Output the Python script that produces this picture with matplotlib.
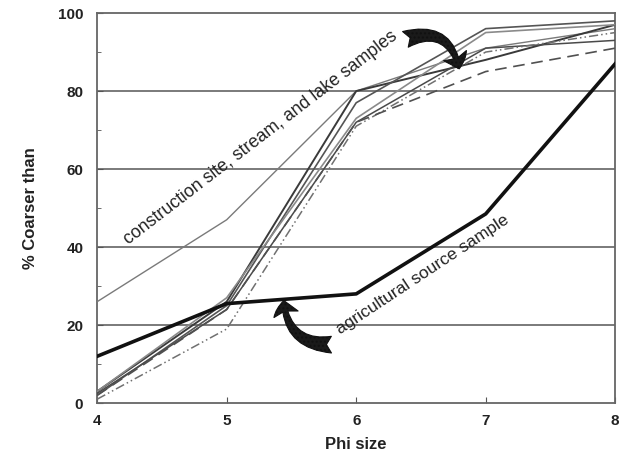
import numpy as np
import matplotlib
matplotlib.use('Agg')
import matplotlib.pyplot as plt
from matplotlib.patches import FancyArrowPatch
from matplotlib.ticker import MultipleLocator

plt.rcParams['font.family'] = ['Liberation Sans', 'DejaVu Sans']

phi = [4, 5, 6, 7, 8]

# construction site, stream and lake samples
construction = [26, 47, 80, 91, 96]
sample_a = [3, 26, 80, 88, 97]
sample_b = [2, 25, 77, 96, 98]
sample_c = [3, 27, 73, 95, 97]
sample_d = [2.5, 24, 72, 91, 93]
sample_dashdot = [1, 19, 71, 90, 95]
sample_dashed = [2, 24, 72, 85, 91]

# agricultural source sample
agricultural = [12, 25.5, 28, 48.5, 87]

fig = plt.figure(figsize=(6.31, 4.66), dpi=100)
ax = fig.add_axes([0.154, 0.135, 0.821, 0.837])

for y in [20, 40, 60, 80]:
    ax.axhline(y, color='#707070', lw=1.3, zorder=1)

ax.plot(phi, construction, color='#7a7a7a', lw=1.0, zorder=3)
ax.plot(phi, sample_a, color='#3a3a3a', lw=1.4, zorder=3)
ax.plot(phi, sample_b, color='#555555', lw=1.2, zorder=3)
ax.plot(phi, sample_c, color='#8a8a8a', lw=1.2, zorder=3)
ax.plot(phi, sample_d, color='#4a4a4a', lw=1.1, zorder=3)
ax.plot(phi, sample_dashdot, color='#707070', lw=1.1, ls=(0, (6, 2, 1, 2, 1, 2)), zorder=3)
ax.plot(phi, sample_dashed, color='#505050', lw=1.2, ls=(0, (7, 4)), zorder=3)
ax.plot(phi, agricultural, color='#111111', lw=2.6, zorder=4)

ax.text(4.24, 40.5, 'construction site, stream, and lake samples', rotation=37.5,
        rotation_mode='anchor', fontsize=12.8, color='#222222', ha='left', va='baseline')
ax.text(5.88, 17.5, 'agricultural source sample', rotation=33.5,
        rotation_mode='anchor', fontsize=12.5, color='#222222', ha='left', va='baseline')

# curved pointer arrows
arrow_style = 'fancy,head_width=18,head_length=10,tail_width=12'
arr1 = FancyArrowPatch((6.36, 93), (6.8, 85), connectionstyle='arc3,rad=-0.6',
                       arrowstyle=arrow_style, facecolor='#1a1a1a', edgecolor='#111111',
                       hatch='....', lw=0.8, mutation_scale=1, zorder=5)
ax.add_patch(arr1)
arr2 = FancyArrowPatch((5.83, 15), (5.44, 27), connectionstyle='arc3,rad=-0.5',
                       arrowstyle=arrow_style, facecolor='#1a1a1a', edgecolor='#111111',
                       hatch='....', lw=0.8, mutation_scale=1, zorder=5)
ax.add_patch(arr2)

ax.set_xlim(4, 8)
ax.set_ylim(0, 100)
ax.set_xticks(phi)
ax.set_yticks([0, 20, 40, 60, 80, 100])
ax.yaxis.set_minor_locator(MultipleLocator(10))
ax.tick_params(axis='both', direction='in', length=4, color='#555555', labelsize=11)
ax.tick_params(axis='y', which='minor', direction='in', length=3, color='#555555')
for lab in ax.get_xticklabels() + ax.get_yticklabels():
    lab.set_fontweight('bold')
    lab.set_color('#222222')
ax.tick_params(axis='x', pad=8)
ax.tick_params(axis='y', pad=10)
for s in ax.spines.values():
    s.set_color('#666666')
    s.set_linewidth(1.3)

ax.set_xlabel('Phi size', fontsize=12, fontweight='bold', color='#222222', labelpad=6)
ax.set_ylabel('% Coarser than', fontsize=12, fontweight='bold', color='#222222', labelpad=14)

fig.savefig('out.png', dpi=100)
